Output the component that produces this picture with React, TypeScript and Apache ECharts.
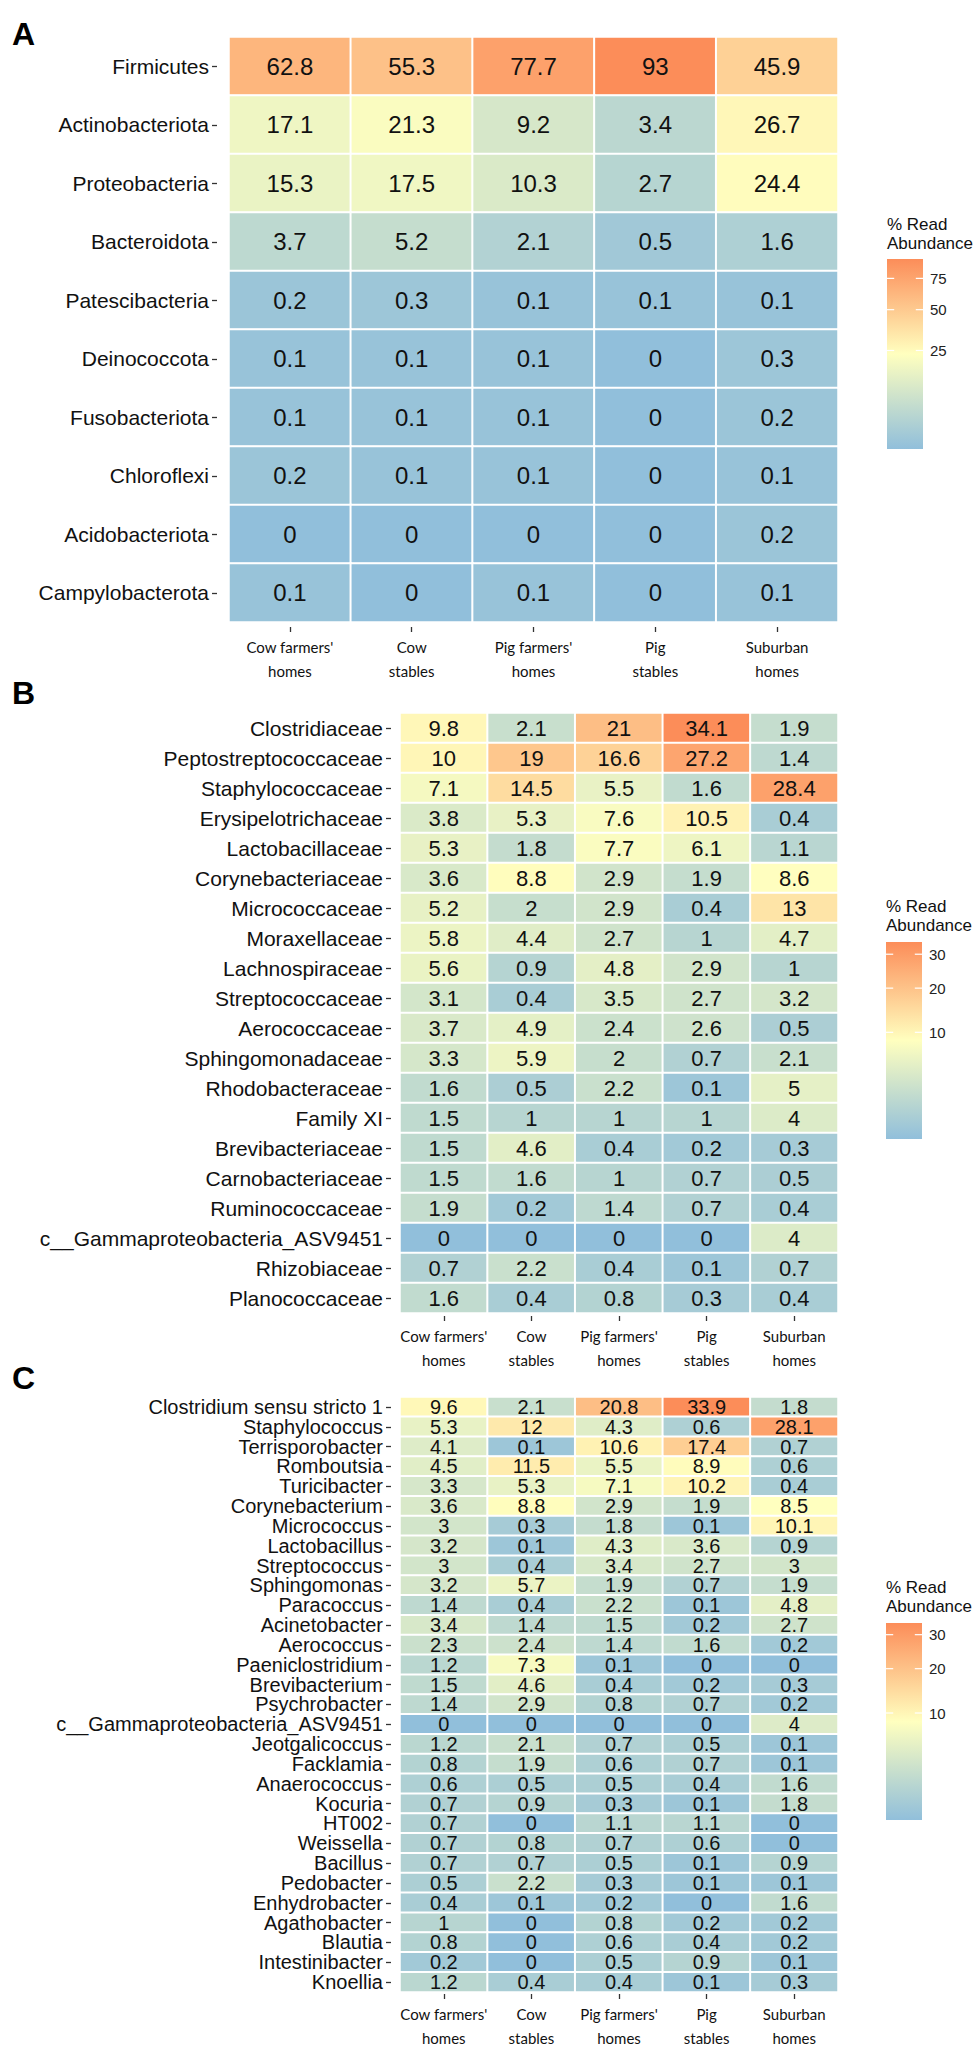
import React, { useEffect, useRef } from "react";
import * as echarts from "echarts";

// ---------- DATA ----------
const groups = [
  "Cow farmers'\nhomes",
  "Cow\nstables",
  "Pig farmers'\nhomes",
  "Pig\nstables",
  "Suburban\nhomes",
];

const phyla = [
  "Firmicutes",
  "Actinobacteriota",
  "Proteobacteria",
  "Bacteroidota",
  "Patescibacteria",
  "Deinococcota",
  "Fusobacteriota",
  "Chloroflexi",
  "Acidobacteriota",
  "Campylobacterota",
];
const phylaValues = [
  [62.8, 55.3, 77.7, 93, 45.9],
  [17.1, 21.3, 9.2, 3.4, 26.7],
  [15.3, 17.5, 10.3, 2.7, 24.4],
  [3.7, 5.2, 2.1, 0.5, 1.6],
  [0.2, 0.3, 0.1, 0.1, 0.1],
  [0.1, 0.1, 0.1, 0, 0.3],
  [0.1, 0.1, 0.1, 0, 0.2],
  [0.2, 0.1, 0.1, 0, 0.1],
  [0, 0, 0, 0, 0.2],
  [0.1, 0, 0.1, 0, 0.1],
];

const families = [
  "Clostridiaceae",
  "Peptostreptococcaceae",
  "Staphylococcaceae",
  "Erysipelotrichaceae",
  "Lactobacillaceae",
  "Corynebacteriaceae",
  "Micrococcaceae",
  "Moraxellaceae",
  "Lachnospiraceae",
  "Streptococcaceae",
  "Aerococcaceae",
  "Sphingomonadaceae",
  "Rhodobacteraceae",
  "Family XI",
  "Brevibacteriaceae",
  "Carnobacteriaceae",
  "Ruminococcaceae",
  "c__Gammaproteobacteria_ASV9451",
  "Rhizobiaceae",
  "Planococcaceae",
];
const familyValues = [
  [9.8, 2.1, 21, 34.1, 1.9],
  [10, 19, 16.6, 27.2, 1.4],
  [7.1, 14.5, 5.5, 1.6, 28.4],
  [3.8, 5.3, 7.6, 10.5, 0.4],
  [5.3, 1.8, 7.7, 6.1, 1.1],
  [3.6, 8.8, 2.9, 1.9, 8.6],
  [5.2, 2, 2.9, 0.4, 13],
  [5.8, 4.4, 2.7, 1, 4.7],
  [5.6, 0.9, 4.8, 2.9, 1],
  [3.1, 0.4, 3.5, 2.7, 3.2],
  [3.7, 4.9, 2.4, 2.6, 0.5],
  [3.3, 5.9, 2, 0.7, 2.1],
  [1.6, 0.5, 2.2, 0.1, 5],
  [1.5, 1, 1, 1, 4],
  [1.5, 4.6, 0.4, 0.2, 0.3],
  [1.5, 1.6, 1, 0.7, 0.5],
  [1.9, 0.2, 1.4, 0.7, 0.4],
  [0, 0, 0, 0, 4],
  [0.7, 2.2, 0.4, 0.1, 0.7],
  [1.6, 0.4, 0.8, 0.3, 0.4],
];

const genera = [
  "Clostridium sensu stricto 1",
  "Staphylococcus",
  "Terrisporobacter",
  "Romboutsia",
  "Turicibacter",
  "Corynebacterium",
  "Micrococcus",
  "Lactobacillus",
  "Streptococcus",
  "Sphingomonas",
  "Paracoccus",
  "Acinetobacter",
  "Aerococcus",
  "Paeniclostridium",
  "Brevibacterium",
  "Psychrobacter",
  "c__Gammaproteobacteria_ASV9451",
  "Jeotgalicoccus",
  "Facklamia",
  "Anaerococcus",
  "Kocuria",
  "HT002",
  "Weissella",
  "Bacillus",
  "Pedobacter",
  "Enhydrobacter",
  "Agathobacter",
  "Blautia",
  "Intestinibacter",
  "Knoellia",
];
const genusValues = [
  [9.6, 2.1, 20.8, 33.9, 1.8],
  [5.3, 12, 4.3, 0.6, 28.1],
  [4.1, 0.1, 10.6, 17.4, 0.7],
  [4.5, 11.5, 5.5, 8.9, 0.6],
  [3.3, 5.3, 7.1, 10.2, 0.4],
  [3.6, 8.8, 2.9, 1.9, 8.5],
  [3, 0.3, 1.8, 0.1, 10.1],
  [3.2, 0.1, 4.3, 3.6, 0.9],
  [3, 0.4, 3.4, 2.7, 3],
  [3.2, 5.7, 1.9, 0.7, 1.9],
  [1.4, 0.4, 2.2, 0.1, 4.8],
  [3.4, 1.4, 1.5, 0.2, 2.7],
  [2.3, 2.4, 1.4, 1.6, 0.2],
  [1.2, 7.3, 0.1, 0, 0],
  [1.5, 4.6, 0.4, 0.2, 0.3],
  [1.4, 2.9, 0.8, 0.7, 0.2],
  [0, 0, 0, 0, 4],
  [1.2, 2.1, 0.7, 0.5, 0.1],
  [0.8, 1.9, 0.6, 0.7, 0.1],
  [0.6, 0.5, 0.5, 0.4, 1.6],
  [0.7, 0.9, 0.3, 0.1, 1.8],
  [0.7, 0, 1.1, 1.1, 0],
  [0.7, 0.8, 0.7, 0.6, 0],
  [0.7, 0.7, 0.5, 0.1, 0.9],
  [0.5, 2.2, 0.3, 0.1, 0.1],
  [0.4, 0.1, 0.2, 0, 1.6],
  [1, 0, 0.8, 0.2, 0.2],
  [0.8, 0, 0.6, 0.4, 0.2],
  [0.2, 0, 0.5, 0.9, 0.1],
  [1.2, 0.4, 0.4, 0.1, 0.3],
];

const legendTicksA = [25, 50, 75];
const legendTicksB = [10, 20, 30];
const legendTicksC = [10, 20, 30];
const legendTitle = "% Read\nAbundance";

// ---------- STYLE / LAYOUT ----------
const COLORS = ["#91bfdb", "#ffffbf", "#fc8d59"];
const FONT = "'Liberation Sans', Arial, sans-serif";
const XFONT = "Lato, 'Open Sans', sans-serif";

const panels = [
  {
    letter: "A",
    rows: phyla,
    values: phylaValues,
    ticks: legendTicksA,
    grid: { left: 229, top: 37, width: 609, height: 585 },
    yOffset: 12,
    xOffset: 5,
    yFontSize: 21,
    cellFontSize: 24,
    letterTop: 18,
    legend: { left: 887, top: 259, width: 36, height: 190 },
    titleTop: 215,
  },
  {
    letter: "B",
    rows: families,
    values: familyValues,
    ticks: legendTicksB,
    grid: { left: 400, top: 713, width: 438, height: 600 },
    yOffset: 9,
    xOffset: 3,
    yFontSize: 21,
    cellFontSize: 22,
    letterTop: 677,
    legend: { left: 886, top: 942, width: 36, height: 197 },
    titleTop: 897,
  },
  {
    letter: "C",
    rows: genera,
    values: genusValues,
    ticks: legendTicksC,
    grid: { left: 400, top: 1397, width: 438, height: 600 },
    yOffset: 9,
    xOffset: 2,
    yFontSize: 20,
    cellFontSize: 20,
    letterTop: 1362,
    legend: { left: 886, top: 1623, width: 36, height: 197 },
    titleTop: 1578,
  },
];

function buildOption() {
  const grid: any[] = [];
  const xAxis: any[] = [];
  const yAxis: any[] = [];
  const series: any[] = [];
  const visualMap: any[] = [];
  const title: any[] = [];

  panels.forEach((p, i) => {
    const maxV = Math.max(...p.values.flat());
    const sMax = Math.sqrt(maxV);
    grid.push({ ...p.grid });
    xAxis.push({
      type: "category",
      gridIndex: i,
      data: groups,
      position: "bottom",
      offset: p.xOffset,
      axisLine: { show: false },
      axisTick: { show: true, alignWithLabel: true, length: 5, lineStyle: { color: "#333", width: 1.3 } },
      axisLabel: { margin: 8, fontFamily: XFONT, fontSize: 15, lineHeight: 24, color: "#111", interval: 0 },
      splitLine: { show: false },
    });
    yAxis.push({
      type: "category",
      gridIndex: i,
      data: p.rows,
      inverse: true,
      offset: p.yOffset,
      axisLine: { show: false },
      axisTick: { show: true, alignWithLabel: true, length: 5, lineStyle: { color: "#333", width: 1.3 } },
      axisLabel: {
        margin: 8,
        fontFamily: FONT,
        fontSize: p.yFontSize,
        lineHeight: p.yFontSize,
        color: "#111",
        interval: 0,
      },
      splitLine: { show: false },
    });
    const data: any[] = [];
    p.values.forEach((row, r) =>
      row.forEach((v, c) => data.push([c, r, Math.sqrt(v), v]))
    );
    series.push({
      type: "heatmap",
      xAxisIndex: i,
      yAxisIndex: i,
      data,
      itemStyle: { borderColor: "#ffffff", borderWidth: 2 },
      label: {
        show: true,
        formatter: (prm: any) => String(prm.value[3]),
        fontFamily: FONT,
        fontSize: p.cellFontSize,
        lineHeight: p.cellFontSize,
        color: "#111",
      },
      emphasis: { disabled: true },
    });
    visualMap.push({
      type: "continuous",
      show: false,
      seriesIndex: i,
      dimension: 2,
      min: 0,
      max: sMax,
      inRange: { color: COLORS },
    });
    title.push({
      text: p.letter,
      left: 12,
      top: p.letterTop,
      padding: 0,
      textStyle: { fontFamily: FONT, fontSize: 32, fontWeight: "bold", color: "#000" },
    });
    title.push({
      text: legendTitle,
      left: p.legend.left,
      top: p.titleTop,
      padding: 0,
      textStyle: { fontFamily: FONT, fontSize: 17, lineHeight: 19, fontWeight: "normal", color: "#111" },
    });
  });

  // legend colour bars (scale in sqrt space)
  panels.forEach((p, i) => {
    const gi = panels.length + i;
    const maxV = Math.max(...p.values.flat());
    const sMax = Math.sqrt(maxV);
    grid.push({ ...p.legend });
    xAxis.push({ type: "value", gridIndex: gi, min: 0, max: 1, show: false });
    yAxis.push({ type: "value", gridIndex: gi, min: 0, max: sMax, show: false });
    series.push({
      type: "custom",
      xAxisIndex: gi,
      yAxisIndex: gi,
      silent: true,
      data: [[0, 0]],
      renderItem: (_params: any, api: any) => {
        const a = api.coord([0, 0]);
        const b = api.coord([1, sMax]);
        return {
          type: "rect",
          shape: { x: a[0], y: b[1], width: b[0] - a[0], height: a[1] - b[1] },
          style: {
            fill: new echarts.graphic.LinearGradient(0, 1, 0, 0, [
              { offset: 0, color: COLORS[0] },
              { offset: 0.5, color: COLORS[1] },
              { offset: 1, color: COLORS[2] },
            ]),
          },
        };
      },
    });
    series.push({
      type: "custom",
      xAxisIndex: gi,
      yAxisIndex: gi,
      silent: true,
      data: p.ticks.map((t) => [0, Math.sqrt(t), t]),
      renderItem: (_params: any, api: any) => {
        const l = api.coord([0, api.value(1)]);
        const r = api.coord([1, api.value(1)]);
        const w = r[0] - l[0];
        return {
          type: "group",
          children: [
            { type: "line", shape: { x1: l[0], y1: l[1], x2: l[0] + w * 0.2, y2: l[1] }, style: { stroke: "#ffffff", lineWidth: 1.2 } },
            { type: "line", shape: { x1: r[0] - w * 0.2, y1: r[1], x2: r[0], y2: r[1] }, style: { stroke: "#ffffff", lineWidth: 1.2 } },
            {
              type: "text",
              x: r[0] + 7,
              y: r[1],
              style: {
                text: String(api.value(2)),
                fill: "#222",
                fontSize: 15,
                fontFamily: FONT,
                verticalAlign: "middle",
                align: "left",
              },
            },
          ],
        };
      },
    });
  });

  return {
    animation: false,
    backgroundColor: "#ffffff",
    title,
    grid,
    xAxis,
    yAxis,
    visualMap,
    series,
  };
}

export default function App() {
  const ref = useRef<HTMLDivElement>(null);
  useEffect(() => {
    document.body.style.margin = "0";
    const chart = echarts.init(ref.current as HTMLDivElement, null, { renderer: "svg" });
    chart.setOption(buildOption() as any);
    return () => chart.dispose();
  }, []);
  return <div ref={ref} style={{ width: 975, height: 2050 }} />;
}
